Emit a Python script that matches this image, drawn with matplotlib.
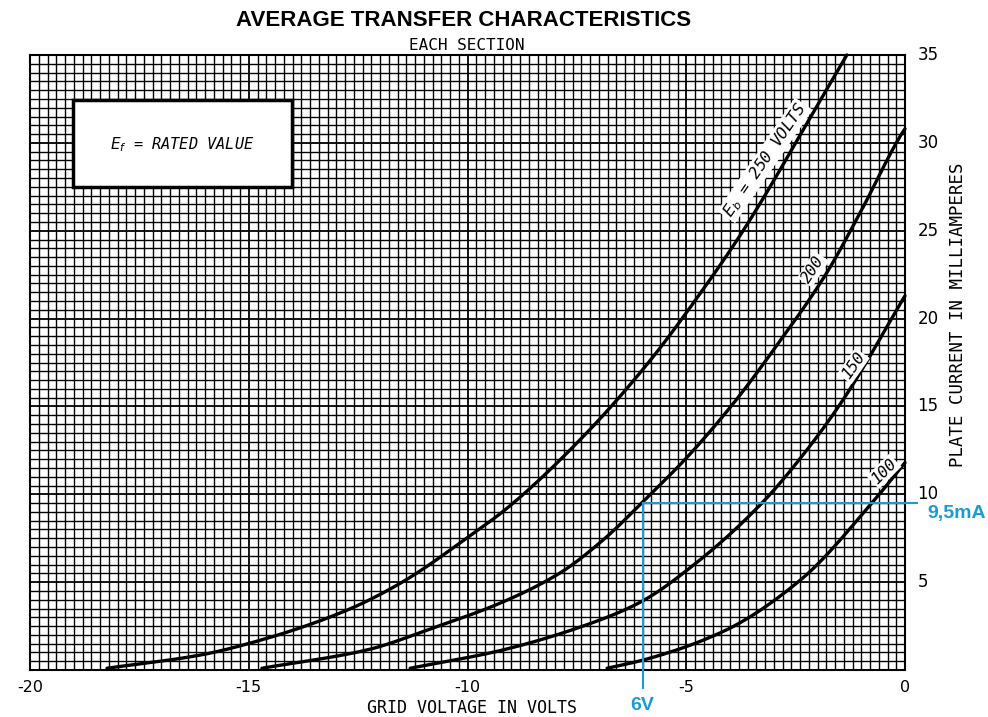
import numpy as np
import matplotlib
matplotlib.use("Agg")
import matplotlib.pyplot as plt
from matplotlib.ticker import MultipleLocator
from matplotlib.patches import Rectangle

# curve data read from the sheet (grid volts, plate mA)
eb250_v = [-18.24, -16.11, -14.59, -12.76, -11.54, -10.02, -9.10, -7.35, -5.83, -4.69, -3.70, -1.94, -1.33]
eb250_i = [0.1, 0.85, 1.8, 3.4, 4.93, 7.5, 9.2, 13.3, 17.6, 21.4, 25.0, 32.4, 35.0]

eb200_v = [-14.70, -12.30, -10.78, -9.26, -7.9, -6.9, -6.02, -4.91, -3.85, -3.01, -1.79, -1.03, -0.08, 0.0]
eb200_i = [0.1, 1.14, 2.4, 3.8, 5.5, 7.4, 9.5, 12.3, 15.4, 18.2, 22.6, 26.0, 30.5, 30.8]

eb150_v = [-11.31, -9.26, -6.97, -6.02, -4.69, -3.24, -2.25, -1.41, 0.0]
eb150_i = [0.1, 1.1, 2.85, 3.9, 6.26, 9.58, 12.5, 15.4, 21.3]

eb100_v = [-6.81, -5.98, -4.15, -2.40, -0.73, 0.0]
eb100_i = [0.1, 0.57, 2.2, 5.1, 9.58, 11.8]

curve_labels = [r"$E_b$ = 250 VOLTS", "200", "150", "100"]
label_pos = [(-3.2, 29.0), (-2.1, 22.8), (-1.18, 17.3), (-0.48, 11.3)]
label_rot = [55.6, 57, 55, 45]

x_ticks = [-20, -15, -10, -5, 0]
y_ticks = [5, 10, 15, 20, 25, 30, 35]

# operating point marked in blue
op_v = -6.0
op_i = 9.5
op_v_text = "6V"
op_i_text = "9,5mA"

mono = "DejaVu Sans Mono"
blue = "#1a9bd8"


def smooth(xp, yp, n=300):
    # monotone cubic through the read points, only for drawing
    xp = np.asarray(xp, float)
    yp = np.asarray(yp, float)
    h = np.diff(xp)
    d = np.diff(yp) / h
    m = np.zeros_like(yp)
    m[0] = d[0]
    m[-1] = d[-1]
    for k in range(1, len(xp) - 1):
        if d[k - 1] * d[k] > 0:
            w1 = 2 * h[k] + h[k - 1]
            w2 = h[k] + 2 * h[k - 1]
            m[k] = (w1 + w2) / (w1 / d[k - 1] + w2 / d[k])
    xs = np.linspace(xp[0], xp[-1], n)
    idx = np.clip(np.searchsorted(xp, xs) - 1, 0, len(h) - 1)
    t = (xs - xp[idx]) / h[idx]
    h00 = 2 * t**3 - 3 * t**2 + 1
    h10 = t**3 - 2 * t**2 + t
    h01 = -2 * t**3 + 3 * t**2
    h11 = t**3 - t**2
    ys = h00 * yp[idx] + h10 * h[idx] * m[idx] + h01 * yp[idx + 1] + h11 * h[idx] * m[idx + 1]
    return xs, ys


fig = plt.figure(figsize=(9.88, 7.17), dpi=100)
ax = fig.add_axes([30 / 988, 1 - 670 / 717, 875 / 988, 615 / 717])

ax.set_xlim(-20, 0)
ax.set_ylim(0, 35)

# graph paper
ax.xaxis.set_minor_locator(MultipleLocator(0.2))
ax.yaxis.set_minor_locator(MultipleLocator(0.5))
ax.set_xticks(x_ticks)
ax.set_yticks(y_ticks)
ax.grid(which="minor", color="black", lw=1.0)
ax.grid(which="major", color="black", lw=1.3)
ax.set_axisbelow(True)
for s in ax.spines.values():
    s.set_linewidth(1.5)

ax.tick_params(which="both", length=0)
ax.yaxis.tick_right()
ax.tick_params(axis="y", pad=9, labelsize=12)
ax.tick_params(axis="x", pad=7, labelsize=11.5)
ax.set_xticklabels(["-20", "-15", "-10", "-5", "0"])
ax.set_yticklabels([str(t) for t in y_ticks])
for lab in ax.get_yticklabels():
    lab.set_verticalalignment("center")

# curves
for v, i in [(eb250_v, eb250_i), (eb200_v, eb200_i), (eb150_v, eb150_i), (eb100_v, eb100_i)]:
    xs, ys = smooth(v, i)
    ax.plot(xs, ys, color="black", lw=2.4, solid_capstyle="round", clip_on=False, zorder=3)

for txt, (x, y), r in zip(curve_labels, label_pos, label_rot):
    ax.text(x, y, txt, rotation=r, rotation_mode="anchor", ha="center", va="center",
            fontsize=11.5, family=mono, fontstyle="italic", zorder=4,
            bbox=dict(facecolor="white", edgecolor="none", pad=1.0))

# rated value box
ax.add_patch(Rectangle((0.049, 0.785), 0.25, 0.142, transform=ax.transAxes,
                       facecolor="white", edgecolor="black", lw=2.5, zorder=5))
ax.text(0.174, 0.854, r"$E_f$ = RATED VALUE", transform=ax.transAxes, ha="center", va="center",
        fontsize=11, fontstyle="italic", family=mono, zorder=6)

# blue operating point lines
ax.plot([op_v, 0.27], [op_i, op_i], color=blue, lw=1.5, clip_on=False, zorder=6)
ax.plot([op_v, op_v], [op_i, -1.0], color=blue, lw=1.5, clip_on=False, zorder=6)
ax.text(0.5, op_i - 0.6, op_i_text, color=blue, fontsize=14, fontweight="bold",
        family="Liberation Sans", ha="left", va="center")
ax.text(op_v, -2.0, op_v_text, color=blue, fontsize=14, fontweight="bold",
        family="Liberation Sans", ha="center", va="center")

# titles and axis labels
fig.text(464 / 988, 1 - 20 / 717, "AVERAGE TRANSFER CHARACTERISTICS", ha="center", va="center",
         fontsize=16, fontweight="bold", family="Liberation Sans")
fig.text(467 / 988, 1 - 45 / 717, "EACH SECTION", ha="center", va="center", fontsize=11.5, family=mono)
fig.text(472 / 988, 1 - 708 / 717, "GRID VOLTAGE IN VOLTS", ha="center", va="center", fontsize=12, family=mono)
fig.text(958 / 988, 1 - 315 / 717, "PLATE CURRENT IN MILLIAMPERES", ha="center", va="center",
         rotation=90, fontsize=12.5, family=mono)

fig.savefig("out.png", dpi=100)
